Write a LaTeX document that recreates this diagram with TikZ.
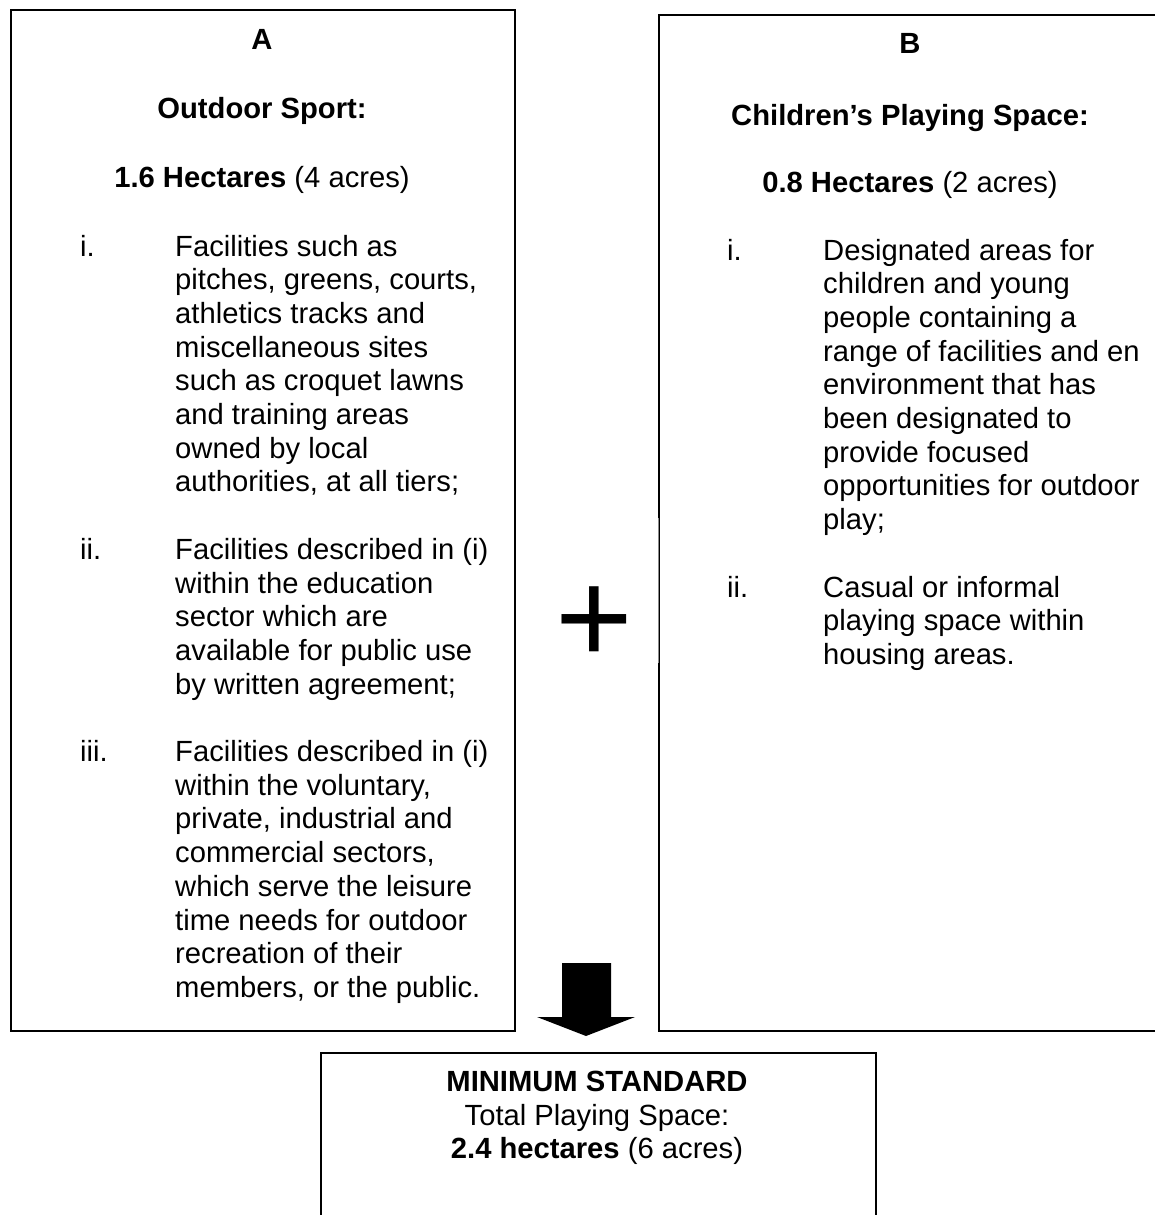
\documentclass[tikz,border=0pt]{standalone}
\usepackage{fontspec}
\setmainfont{Liberation Sans}
\begin{document}
\begin{tikzpicture}[x=1pt,y=-1pt,
  box/.style={draw=black, line width=1.6pt, inner sep=0pt, anchor=north west},
  txt/.style={inner sep=0pt, anchor=base, font=\fontsize{29.2}{33.7}\selectfont},
  btxt/.style={txt, font=\fontsize{29.2}{33.7}\selectfont\bfseries},
  lst/.style={inner sep=0pt, anchor=base west, font=\fontsize{29.2}{33.7}\selectfont},
]
\fill[white] (0,0) rectangle (1155,1215);
\useasboundingbox (0,0) rectangle (1155,1215);

% boxes
\node[box, minimum width=504pt, minimum height=1021pt] (boxA) at (10,9) {};
\node[box, minimum width=520pt, minimum height=1016pt] (boxB) at (658,14) {};
\node[box, minimum width=555pt, minimum height=200pt] (boxC) at (320,1052) {};
% lighter segment of B's left edge (behind the plus)
\coordinate (gapT) at (658,518);
\coordinate (gapB) at (658,663);
\draw[white, line width=2.4pt] (gapT) -- (gapB);
\draw[black!45, line width=0.8pt] (gapT) -- (gapB);

% box A titles
\node[btxt] (tA) at (262,50) {A};
\node[btxt] (tA2) at (262,118) {Outdoor Sport:};
\node[txt] (tA3) at (262,187) {\textbf{1.6 Hectares} (4 acres)};

\node[lst] (listA) at (80,256) {\begin{tabular}[t]{@{}p{95pt}@{}l@{}}
i. & Facilities such as\\
 & pitches, greens, courts,\\
 & athletics tracks and\\
 & miscellaneous sites\\
 & such as croquet lawns\\
 & and training areas\\
 & owned by local\\
 & authorities, at all tiers;\\
 & \\
ii. & Facilities described in (i)\\
 & within the education\\
 & sector which are\\
 & available for public use\\
 & by written agreement;\\
 & \\
iii. & Facilities described in (i)\\
 & within the voluntary,\\
 & private, industrial and\\
 & commercial sectors,\\
 & which serve the leisure\\
 & time needs for outdoor\\
 & recreation of their\\
 & members, or the public.
\end{tabular}};

% box B titles
\node[btxt] (tB) at (910,53) {B};
\node[btxt] (tB2) at (910,125) {Children’s Playing Space:};
\node[txt] (tB3) at (910,192) {\textbf{0.8 Hectares} (2 acres)};

\node[lst] (listB) at (727,260) {\begin{tabular}[t]{@{}p{96pt}@{}l@{}}
i. & Designated areas for\\
 & children and young\\
 & people containing a\\
 & range of facilities and en\\
 & environment that has\\
 & been designated to\\
 & provide focused\\
 & opportunities for outdoor\\
 & play;\\
 & \\
ii. & Casual or informal\\
 & playing space within\\
 & housing areas.
\end{tabular}};

% plus sign
\node[inner sep=0pt, anchor=base, font=\fontsize{133}{133}\selectfont] (plus) at (594,663) {+};

% block arrow
\fill[black] (562,963) -- (611,963) -- (611,1017) -- (635,1017) -- (586,1036)
  -- (537,1017) -- (562,1017) -- cycle;

% bottom box text
\node[btxt] (tC1) at (597,1091) {MINIMUM STANDARD};
\node[txt] (tC2) at (597,1125) {Total Playing Space:};
\node[txt] (tC3) at (597,1158) {\textbf{2.4 hectares} (6 acres)};
\end{tikzpicture}
\end{document}
